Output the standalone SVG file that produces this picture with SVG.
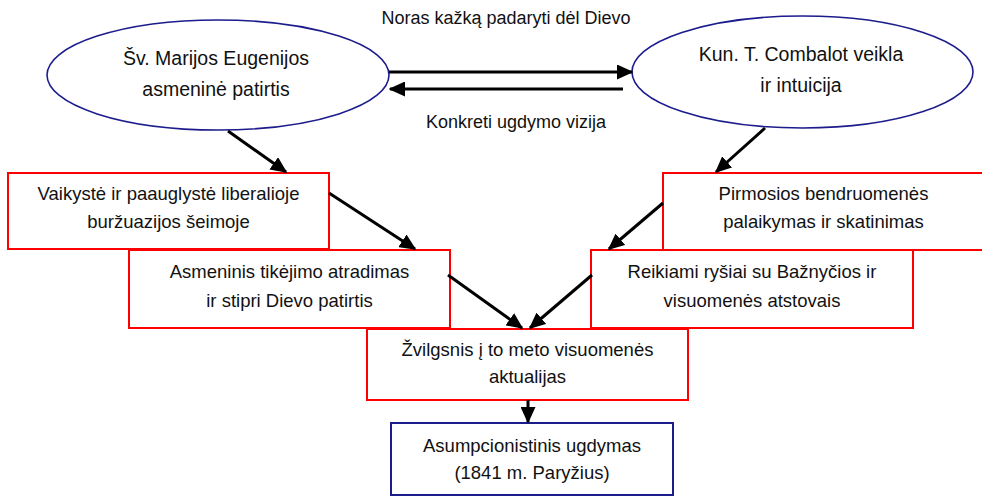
<svg xmlns="http://www.w3.org/2000/svg" width="982" height="497" viewBox="0 0 982 497">
<style>
text{font-family:"Liberation Sans",Arial,sans-serif;fill:#111;text-anchor:middle}
.el{fill:#fff;stroke:#1c1c8c;stroke-width:1.6}
.rb{fill:#fff;stroke:#ff0000;stroke-width:2}
.bb{fill:#fff;stroke:#1c1c8c;stroke-width:2}
.t1{font-size:19.5px}
.t2{font-size:18.5px}
.lb{font-size:18px}
.ar{stroke:#000;stroke-width:3;fill:none;marker-end:url(#ah)}
</style>
<defs>
<marker id="ah" markerWidth="5.5" markerHeight="5" refX="5" refY="2.5" orient="auto" markerUnits="strokeWidth">
<path d="M0,0 L5.5,2.5 L0,5 z" fill="#000"/>
</marker>
</defs>
<rect width="982" height="497" fill="#fff"/>
<g id="n-left-ellipse">
<ellipse class="el" cx="218" cy="75" rx="171" ry="55"/>
<text class="t1" x="216" y="65">Šv. Marijos Eugenijos</text>
<text class="t1" x="216" y="96">asmeninė patirtis</text>
</g>
<g id="n-right-ellipse">
<ellipse class="el" cx="802.5" cy="72" rx="170.5" ry="56"/>
<text class="t1" x="801" y="61">Kun. T. Combalot veikla</text>
<text class="t1" x="801" y="92">ir intuicija</text>
</g>
<g id="n-box1">
<rect class="rb" x="8" y="173" width="321" height="76"/>
<text class="t2" x="168.5" y="200">Vaikystė ir paauglystė liberalioje</text>
<text class="t2" x="168.5" y="228">buržuazijos šeimoje</text>
</g>
<g id="n-box5">
<rect class="rb" x="663" y="173" width="322" height="77"/>
<text class="t2" x="823.5" y="200">Pirmosios bendruomenės</text>
<text class="t2" x="823.5" y="228">palaikymas ir skatinimas</text>
</g>
<g id="n-box2">
<rect class="rb" x="129" y="250" width="321" height="78"/>
<text class="t2" x="289.5" y="278">Asmeninis tikėjimo atradimas</text>
<text class="t2" x="289.5" y="307">ir stipri Dievo patirtis</text>
</g>
<g id="n-box6">
<rect class="rb" x="591" y="250" width="322" height="78"/>
<text class="t2" x="752" y="278">Reikiami ryšiai su Bažnyčios ir</text>
<text class="t2" x="752" y="307">visuomenės atstovais</text>
</g>
<g id="n-box3">
<rect class="rb" x="367" y="329" width="321" height="71"/>
<text class="t2" x="527.5" y="356">Žvilgsnis į to meto visuomenės</text>
<text class="t2" x="527.5" y="383">aktualijas</text>
</g>
<g id="n-box4">
<rect class="bb" x="391" y="423" width="282" height="72"/>
<text class="t2" x="532" y="452">Asumpcionistinis ugdymas</text>
<text class="t2" x="532" y="479">(1841 m. Paryžius)</text>
</g>
<g id="labels">
<text class="lb" x="506" y="24">Noras kažką padaryti dėl Dievo</text>
<text class="lb" x="516" y="128">Konkreti ugdymo vizija</text>
</g>
<g id="connectors">
<line class="ar" x1="389" y1="72" x2="632" y2="72"/>
<line class="ar" x1="623" y1="89" x2="390" y2="89"/>
<line class="ar" x1="228" y1="131" x2="286" y2="172"/>
<line class="ar" x1="765" y1="128" x2="716" y2="172"/>
<line class="ar" x1="329" y1="193" x2="415" y2="249"/>
<line class="ar" x1="663" y1="203" x2="609" y2="249"/>
<line class="ar" x1="448" y1="275" x2="522" y2="328"/>
<line class="ar" x1="592" y1="275" x2="530" y2="328"/>
<line class="ar" x1="528" y1="400" x2="528" y2="422"/>
</g>
</svg>
